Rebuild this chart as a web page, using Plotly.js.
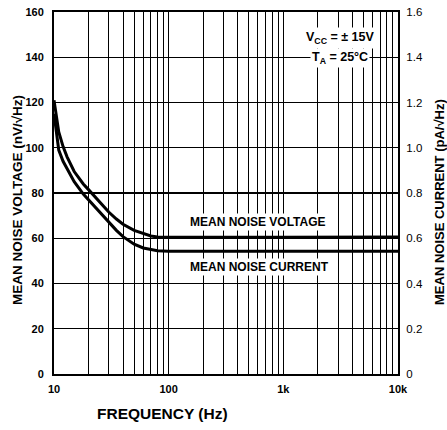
<!DOCTYPE html>
<html>
<head>
<meta charset="utf-8">
<script src="https://cdn.plot.ly/plotly-3.0.1.min.js"></script>
<style>html,body{margin:0;padding:0;background:#fff;}#chart{width:447px;height:430px;}</style>
</head>
<body>
<div id="chart"></div>
<script>
// Frequency points (Hz)
const freq = [10, 10.5, 11, 12, 13, 15, 18, 20, 25, 30, 35, 40, 50, 60, 70, 80, 100, 1000, 10000];
// Mean noise voltage (nV/√Hz), left axis
const noiseVoltage = [121, 113, 107, 100.5, 96, 89.5, 84, 81.5, 76, 71.6, 68.5, 66.2, 63.5, 62, 61, 60.6, 60.4, 60.4, 60.5];
// Mean noise current (pA/√Hz), right axis
const noiseCurrent = [1.15, 1.06, 0.99, 0.94, 0.905, 0.85, 0.795, 0.77, 0.715, 0.67, 0.635, 0.607, 0.574, 0.557, 0.55, 0.545, 0.542, 0.542, 0.542];

// Tick labels
const xMajorVals = [10, 100, 1000, 10000];
const xMajorText = ['10', '100', '1k', '10k'];
const yLeftVals = [0, 20, 40, 60, 80, 100, 120, 140, 160];
const yRightVals = [0, 0.2, 0.4, 0.6, 0.8, 1.0, 1.2, 1.4, 1.6];
const yRightText = ['0', '0.2', '0.4', '0.6', '0.8', '1.0', '1.2', '1.4', '1.6'];
const mult = [2, 3, 4, 5, 6, 7, 8, 9];

const xMinorVals = [];
[10, 100, 1000].forEach(d => mult.forEach(m => xMinorVals.push(d * m)));

const F = 'Liberation Sans, Arial, Helvetica, sans-serif';
const tickFont = {family: F, size: 11, color: '#000', weight: 'bold'};
const tickFontR = {family: F, size: 11.5, color: '#000', weight: 'normal'};

const traces = [
  {x: freq, y: noiseVoltage, xaxis: 'x', yaxis: 'y', mode: 'lines',
   line: {color: '#000', width: 3, shape: 'linear'}, hoverinfo: 'skip'},
  {x: freq, y: noiseCurrent, xaxis: 'x', yaxis: 'y2', mode: 'lines',
   line: {color: '#000', width: 3, shape: 'linear'}, hoverinfo: 'skip'}
];

function ann(text, x, y, size, extra) {
  return Object.assign({text: text, xref: 'paper', yref: 'paper', x: x, y: y,
    xanchor: 'center', yanchor: 'middle', showarrow: false,
    font: {family: F, size: size, weight: 'bold', color: '#000'}}, extra || {});
}

const layout = {
  width: 447, height: 430,
  margin: {l: 54, r: 49, t: 12, b: 56, pad: 0},
  paper_bgcolor: '#fff', plot_bgcolor: '#fff',
  showlegend: false,
  font: {family: F, color: '#000'},
  xaxis: {
    type: 'log', range: [1, 4],
    tickvals: xMajorVals, ticktext: xMajorText,
    tickfont: tickFont, ticks: '', ticklabelstandoff: 4,
    showgrid: true, gridcolor: '#000', gridwidth: 1,
    minor: {tickvals: xMinorVals, showgrid: true, gridcolor: '#000', gridwidth: 1, ticks: ''},
    showline: true, linecolor: '#000', linewidth: 2, mirror: true,
    zeroline: false, fixedrange: true
  },
  yaxis: {
    range: [0, 160], tickvals: yLeftVals,
    tickfont: tickFont, ticks: '', ticklabelstandoff: 6,
    showgrid: true, gridcolor: '#000', gridwidth: 1.3,
    showline: true, linecolor: '#000', linewidth: 2,
    zeroline: false, fixedrange: true
  },
  yaxis2: {
    overlaying: 'y', side: 'right',
    range: [0, 1.6], tickvals: yRightVals, ticktext: yRightText,
    tickfont: tickFontR, ticks: '', ticklabelstandoff: 4,
    showgrid: false, showline: true, linecolor: '#000', linewidth: 2,
    zeroline: false, fixedrange: true
  },
  annotations: [
    ann('MEAN NOISE VOLTAGE', 0.592, 0.42, 12, {bgcolor: '#fff', borderpad: 1}),
    ann('MEAN NOISE CURRENT', 0.596, 0.296, 12, {bgcolor: '#fff', borderpad: 1}),
    ann('V<sub>CC</sub> = ± 15V', 0.83, 0.928, 12.5, {bgcolor: '#fff', borderpad: 2}),
    ann('T<sub>A</sub> = 25°C', 0.83, 0.872, 12.5, {bgcolor: '#fff', borderpad: 1}),
    ann('MEAN NOISE VOLTAGE (nV/√Hz)', -0.108, 0.48, 13.5, {textangle: -90}),
    ann('MEAN NOISE CURRENT (pA/√Hz)', 1.119, 0.475, 13, {textangle: -90}),
    ann('FREQUENCY (Hz)', 0.314, -0.11, 15.5)
  ]
};

Plotly.newPlot('chart', traces, layout, {staticPlot: true, displayModeBar: false});
</script>
</body>
</html>
